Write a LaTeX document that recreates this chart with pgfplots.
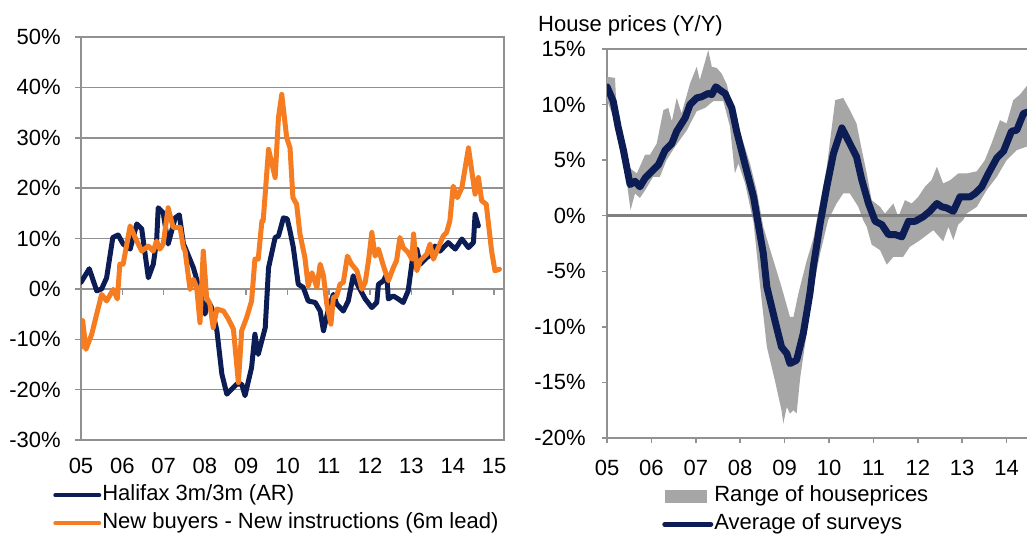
\documentclass[border=0pt]{standalone}
\usepackage{fontspec}
\setmainfont{Liberation Sans}
\usepackage{pgfplots}
\pgfplotsset{compat=1.18}
\definecolor{navy}{RGB}{12,28,84}
\definecolor{orng}{RGB}{245,124,32}
\definecolor{framegray}{RGB}{145,145,145}
\definecolor{zerogray}{RGB}{128,128,128}
\definecolor{bandgray}{RGB}{166,166,166}
\begin{document}
\fontsize{22pt}{26pt}\selectfont
\begin{tikzpicture}
\useasboundingbox (0pt,0pt) rectangle (1027pt,533pt);
\clip (0pt,0pt) rectangle (1027pt,533pt);
% ---------------- left chart ----------------
\begin{axis}[
  at={(81pt,93pt)}, anchor=south west, scale only axis,
  width=423pt, height=403pt,
  xmin=2005, xmax=2015.24, ymin=-30, ymax=50,
  xtick={2005,2006,2007,2008,2009,2010,2011,2012,2013,2014,2015},
  xticklabels={05,06,07,08,09,10,11,12,13,14,15},
  ytick={-30,-20,-10,0,10,20,30,40,50},
  yticklabels={-30\%,-20\%,-10\%,0\%,10\%,20\%,30\%,40\%,50\%},
  ymajorgrids, grid style={framegray, line width=1.5pt},
  axis line style={framegray, line width=1.5pt},
  tick align=outside, ytick pos=left, xtick pos=bottom,
  major tick length=6pt,
  x tick style={draw=none},
  y tick style={framegray, line width=1.5pt},
  xticklabel style={yshift=-5pt}, yticklabel style={xshift=-6.7pt},
  legend cell align=left,
  legend style={at={(axis description cs:-0.066,-0.108)}, anchor=north west,
    draw=none, fill=none, inner sep=0pt, row sep=5pt, column sep=0pt,
    nodes={inner sep=1pt, text height=16pt, text depth=5pt},
    font=\fontsize{22pt}{26pt}\selectfont},
  legend image code/.code={\draw[#1, line width=4pt] (0pt,0pt)--(44pt,0pt);},
]
\pgfplotsinvokeforeach{2006,2007,2008,2009,2010,2011,2012,2013,2014,2015}{
  \draw[framegray, line width=1.5pt] (axis cs:#1,0) -- ++(0pt,-6pt);
}
\addplot[navy, line width=5pt, line join=round, line cap=round] coordinates {
(2005.00,1.3)(2005.20,4.0)(2005.38,-0.4)(2005.50,0.0)(2005.62,2.2)(2005.77,10.2)(2005.90,10.7)
(2006.02,8.9)(2006.19,7.9)(2006.35,12.9)(2006.47,11.9)(2006.63,2.2)(2006.75,4.9)(2006.83,9.5)
(2006.87,16.1)(2006.99,15.1)(2007.11,8.9)(2007.28,14.1)(2007.38,14.7)(2007.48,8.9)(2007.52,8.2)
(2007.72,4.2)(2007.88,-0.4)(2008.00,-5.0)(2008.08,-2.4)(2008.16,-3.7)(2008.29,-8.3)(2008.41,-16.9)
(2008.53,-20.9)(2008.77,-18.9)(2008.89,-18.9)(2008.97,-21.2)(2009.13,-15.6)(2009.21,-9.0)
(2009.29,-13.0)(2009.46,-7.7)(2009.54,4.2)(2009.70,10.2)(2009.78,10.5)(2009.90,14.1)(2009.99,13.9)
(2010.06,11.5)(2010.14,8.2)(2010.26,0.9)(2010.38,0.3)(2010.50,-2.4)(2010.67,-2.7)(2010.79,-4.4)
(2010.87,-8.3)(2010.99,-4.0)(2011.11,-1.1)(2011.19,-3.0)(2011.35,-4.4)(2011.47,-2.4)(2011.59,2.6)
(2011.71,0.6)(2011.88,-2.0)(2012.04,-3.7)(2012.16,-2.7)(2012.20,0.9)(2012.32,1.6)(2012.40,2.9)
(2012.44,-2.0)(2012.56,-1.4)(2012.68,-2.0)(2012.80,-2.7)(2012.92,-0.4)(2013.05,7.5)(2013.13,7.9)
(2013.21,4.9)(2013.37,6.2)(2013.49,6.9)(2013.57,8.5)(2013.69,7.5)(2013.89,9.2)(2014.06,7.9)
(2014.22,9.9)(2014.38,8.2)(2014.50,9.2)(2014.54,14.8)(2014.62,12.5)
};
\addlegendentry{Halifax 3m/3m (AR)}
\addplot[orng, line width=5pt, line join=round, line cap=round] coordinates {
(2005.00,-11.6)(2005.04,-6.3)(2005.12,-12.0)(2005.26,-9.0)(2005.38,-5.0)(2005.50,-1.1)(2005.62,-2.4)
(2005.78,-0.1)(2005.88,-2.0)(2005.94,4.9)(2006.02,4.9)(2006.19,12.5)(2006.31,10.2)(2006.47,7.5)
(2006.63,8.5)(2006.75,7.5)(2006.83,9.5)(2006.91,7.9)(2006.99,8.9)(2007.11,16.1)(2007.23,12.2)
(2007.32,12.2)(2007.40,12.2)(2007.48,8.2)(2007.52,7.5)(2007.64,-0.1)(2007.72,1.9)(2007.80,0.3)
(2007.88,-6.7)(2007.96,7.5)(2008.04,-1.7)(2008.12,-3.0)(2008.20,-7.7)(2008.29,-4.0)(2008.45,-4.4)
(2008.57,-6.0)(2008.69,-8.0)(2008.81,-18.6)(2008.89,-8.3)(2009.01,-5.7)(2009.13,-2.4)(2009.21,5.9)
(2009.29,5.9)(2009.38,13.5)(2009.41,13.5)(2009.54,27.7)(2009.70,22.1)(2009.78,34.0)(2009.86,38.6)
(2009.98,30.0)(2010.06,28.0)(2010.13,18.1)(2010.22,16.8)(2010.30,10.9)(2010.42,6.2)(2010.50,0.6)
(2010.59,3.2)(2010.67,1.3)(2010.71,0.3)(2010.79,4.9)(2010.87,2.6)(2010.95,-3.0)(2011.05,-7.0)
(2011.11,-1.7)(2011.19,-1.4)(2011.27,0.9)(2011.35,1.3)(2011.45,6.5)(2011.55,4.9)(2011.68,3.6)
(2011.80,-0.1)(2011.88,1.3)(2011.96,5.6)(2012.04,11.2)(2012.12,6.5)(2012.20,7.9)(2012.32,4.6)
(2012.44,1.6)(2012.56,4.2)(2012.64,5.6)(2012.72,10.2)(2012.80,8.2)(2012.92,7.2)(2013.01,5.9)
(2013.05,10.9)(2013.13,3.6)(2013.21,5.6)(2013.37,6.9)(2013.45,8.9)(2013.53,5.9)(2013.65,8.2)
(2013.77,10.5)(2013.85,11.2)(2013.93,13.5)(2014.01,20.4)(2014.11,18.1)(2014.22,20.1)(2014.38,28.0)
(2014.54,18.8)(2014.62,22.1)(2014.70,17.5)(2014.81,16.8)(2014.94,7.5)(2015.02,3.6)(2015.13,3.9)
};
\addlegendentry{New buyers - New instructions (6m lead)}
\end{axis}
% ---------------- right chart ----------------
\node[anchor=base west, inner sep=0pt] at (538pt,501pt) {House prices (Y/Y)};
\begin{axis}[
  at={(607pt,95pt)}, anchor=south west, scale only axis,
  width=444pt, height=389pt,
  xmin=2005, xmax=2015, ymin=-20, ymax=15,
  xtick={2005,2006,2007,2008,2009,2010,2011,2012,2013,2014},
  xticklabels={05,06,07,08,09,10,11,12,13,14},
  ytick={-20,-15,-10,-5,0,5,10,15},
  yticklabels={-20\%,-15\%,-10\%,-5\%,0\%,5\%,10\%,15\%},
  axis line style={framegray, line width=1.5pt},
  tick style={framegray, line width=1.5pt},
  tick align=outside, major tick length=5pt, xtick pos=bottom, ytick pos=left,
  xticklabel style={yshift=-10pt}, yticklabel style={xshift=-8.7pt},
  legend cell align=left,
  legend style={at={(axis description cs:0.124,-0.12)}, anchor=north west,
    draw=none, fill=none, inner sep=0pt, row sep=5pt, column sep=0pt,
    nodes={inner sep=1pt, text height=16pt, text depth=5pt},
    font=\fontsize{22pt}{26pt}\selectfont},
]
\addplot[fill=bandgray, draw=none, area legend,
  legend image code/.code={\fill[bandgray] (0pt,-6.5pt) rectangle (42pt,6.5pt);}]
  coordinates {
(2005.00,12.5)(2005.18,12.4)(2005.22,9.2)(2005.33,7.1)(2005.48,4.4)(2005.67,3.8)(2005.86,5.5)
(2005.97,5.5)(2006.12,6.5)(2006.27,9.5)(2006.38,9.7)(2006.46,8.5)(2006.57,10.6)(2006.68,9.2)
(2006.87,11.9)(2007.02,13.4)(2007.09,12.2)(2007.28,14.9)(2007.36,13.4)(2007.47,13.3)(2007.58,12.8)
(2007.70,11.8)(2007.84,9.2)(2008.03,7.1)(2008.22,4.7)(2008.37,2.3)(2008.52,-1.0)(2008.67,-3.0)
(2008.93,-6.4)(2009.12,-9.1)(2009.20,-9.1)(2009.31,-7.0)(2009.50,-4.0)(2009.57,-3.1)(2009.65,-2.0)
(2009.95,4.4)(2010.14,10.4)(2010.32,10.6)(2010.47,9.5)(2010.62,8.3)(2010.74,5.9)(2010.85,3.8)
(2010.96,1.4)(2011.15,0.8)(2011.26,0.2)(2011.45,1.1)(2011.56,-0.1)(2011.71,1.4)(2011.86,1.1)
(2012.01,1.7)(2012.16,2.6)(2012.31,3.2)(2012.43,4.4)(2012.57,2.9)(2012.73,3.2)(2012.91,3.8)
(2013.10,3.8)(2013.33,4.0)(2013.51,5.0)(2013.66,6.5)(2013.85,8.6)(2014.00,8.3)(2014.15,10.4)
(2014.30,10.9)(2014.44,11.6)(2014.56,12.0)
(2014.56,6.4)(2014.44,6.2)(2014.23,5.9)(2014.00,5.0)(2013.78,3.5)(2013.55,2.3)(2013.33,0.8)
(2013.10,0.2)(2013.02,-0.4)(2012.91,-0.8)(2012.80,-2.2)(2012.69,-1.0)(2012.57,-2.3)(2012.35,-1.3)
(2012.05,-2.2)(2011.82,-2.8)(2011.67,-3.7)(2011.45,-3.7)(2011.30,-4.4)(2011.15,-3.1)(2010.96,-2.6)
(2010.85,-1.0)(2010.77,-0.4)(2010.66,0.8)(2010.47,2.0)(2010.32,2.0)(2010.17,1.1)(2009.98,-0.4)
(2009.80,-3.4)(2009.65,-6.4)(2009.50,-10.5)(2009.35,-14.6)(2009.27,-17.8)(2009.20,-17.5)
(2009.12,-17.8)(2009.05,-17.2)(2008.97,-18.7)(2008.93,-17.5)(2008.78,-14.8)(2008.60,-11.8)
(2008.45,-6.4)(2008.30,-0.6)(2008.11,2.9)(2007.96,4.7)(2007.88,3.8)(2007.77,8.0)(2007.62,10.3)
(2007.39,10.3)(2007.21,9.7)(2007.02,9.4)(2006.80,7.7)(2006.53,6.2)(2006.34,5.0)(2006.19,3.5)
(2006.04,3.5)(2005.86,2.3)(2005.74,1.6)(2005.63,2.0)(2005.53,0.5)(2005.44,3.2)(2005.29,5.9)
(2005.14,8.9)(2005.00,10.4)
} -- cycle;
\addlegendentry{Range of houseprices}
\addplot[zerogray, line width=3pt, forget plot] coordinates {(2005,0) (2015,0)};
\addplot[navy, line width=7pt, line join=round, line cap=round,
  legend image code/.code={\draw[navy, line width=5pt] (0pt,0pt)--(46pt,0pt);}] coordinates {
(2005.00,11.6)(2005.14,10.3)(2005.25,8.0)(2005.37,5.9)(2005.52,2.8)(2005.63,3.1)(2005.74,2.6)
(2005.86,3.4)(2006.01,4.0)(2006.16,4.6)(2006.31,5.9)(2006.46,6.5)(2006.57,7.6)(2006.76,8.8)
(2006.87,10.0)(2007.02,10.6)(2007.13,10.7)(2007.28,11.0)(2007.36,10.9)(2007.45,11.6)(2007.58,11.2)
(2007.66,11.0)(2007.81,9.7)(2007.92,7.6)(2008.11,4.6)(2008.30,1.7)(2008.52,-3.4)(2008.60,-6.4)
(2008.78,-9.4)(2008.93,-11.8)(2009.05,-12.4)(2009.12,-13.3)(2009.27,-13.0)(2009.42,-10.6)
(2009.57,-7.0)(2009.65,-4.5)(2009.80,-0.7)(2009.95,2.6)(2010.10,5.6)(2010.29,7.9)(2010.43,6.8)
(2010.62,5.3)(2010.74,3.2)(2010.89,1.1)(2011.04,-0.5)(2011.19,-0.8)(2011.34,-1.7)(2011.49,-1.7)
(2011.64,-1.9)(2011.79,-0.5)(2011.94,-0.5)(2012.12,-0.1)(2012.27,0.4)(2012.43,1.1)(2012.54,0.8)
(2012.65,0.7)(2012.80,0.4)(2012.95,1.7)(2013.18,1.7)(2013.29,2.0)(2013.44,2.6)(2013.59,3.8)
(2013.78,5.2)(2013.93,5.8)(2014.11,7.6)(2014.23,7.7)(2014.38,9.2)(2014.53,9.4)
};
\addlegendentry{Average of surveys}
\end{axis}
\end{tikzpicture}
\end{document}
